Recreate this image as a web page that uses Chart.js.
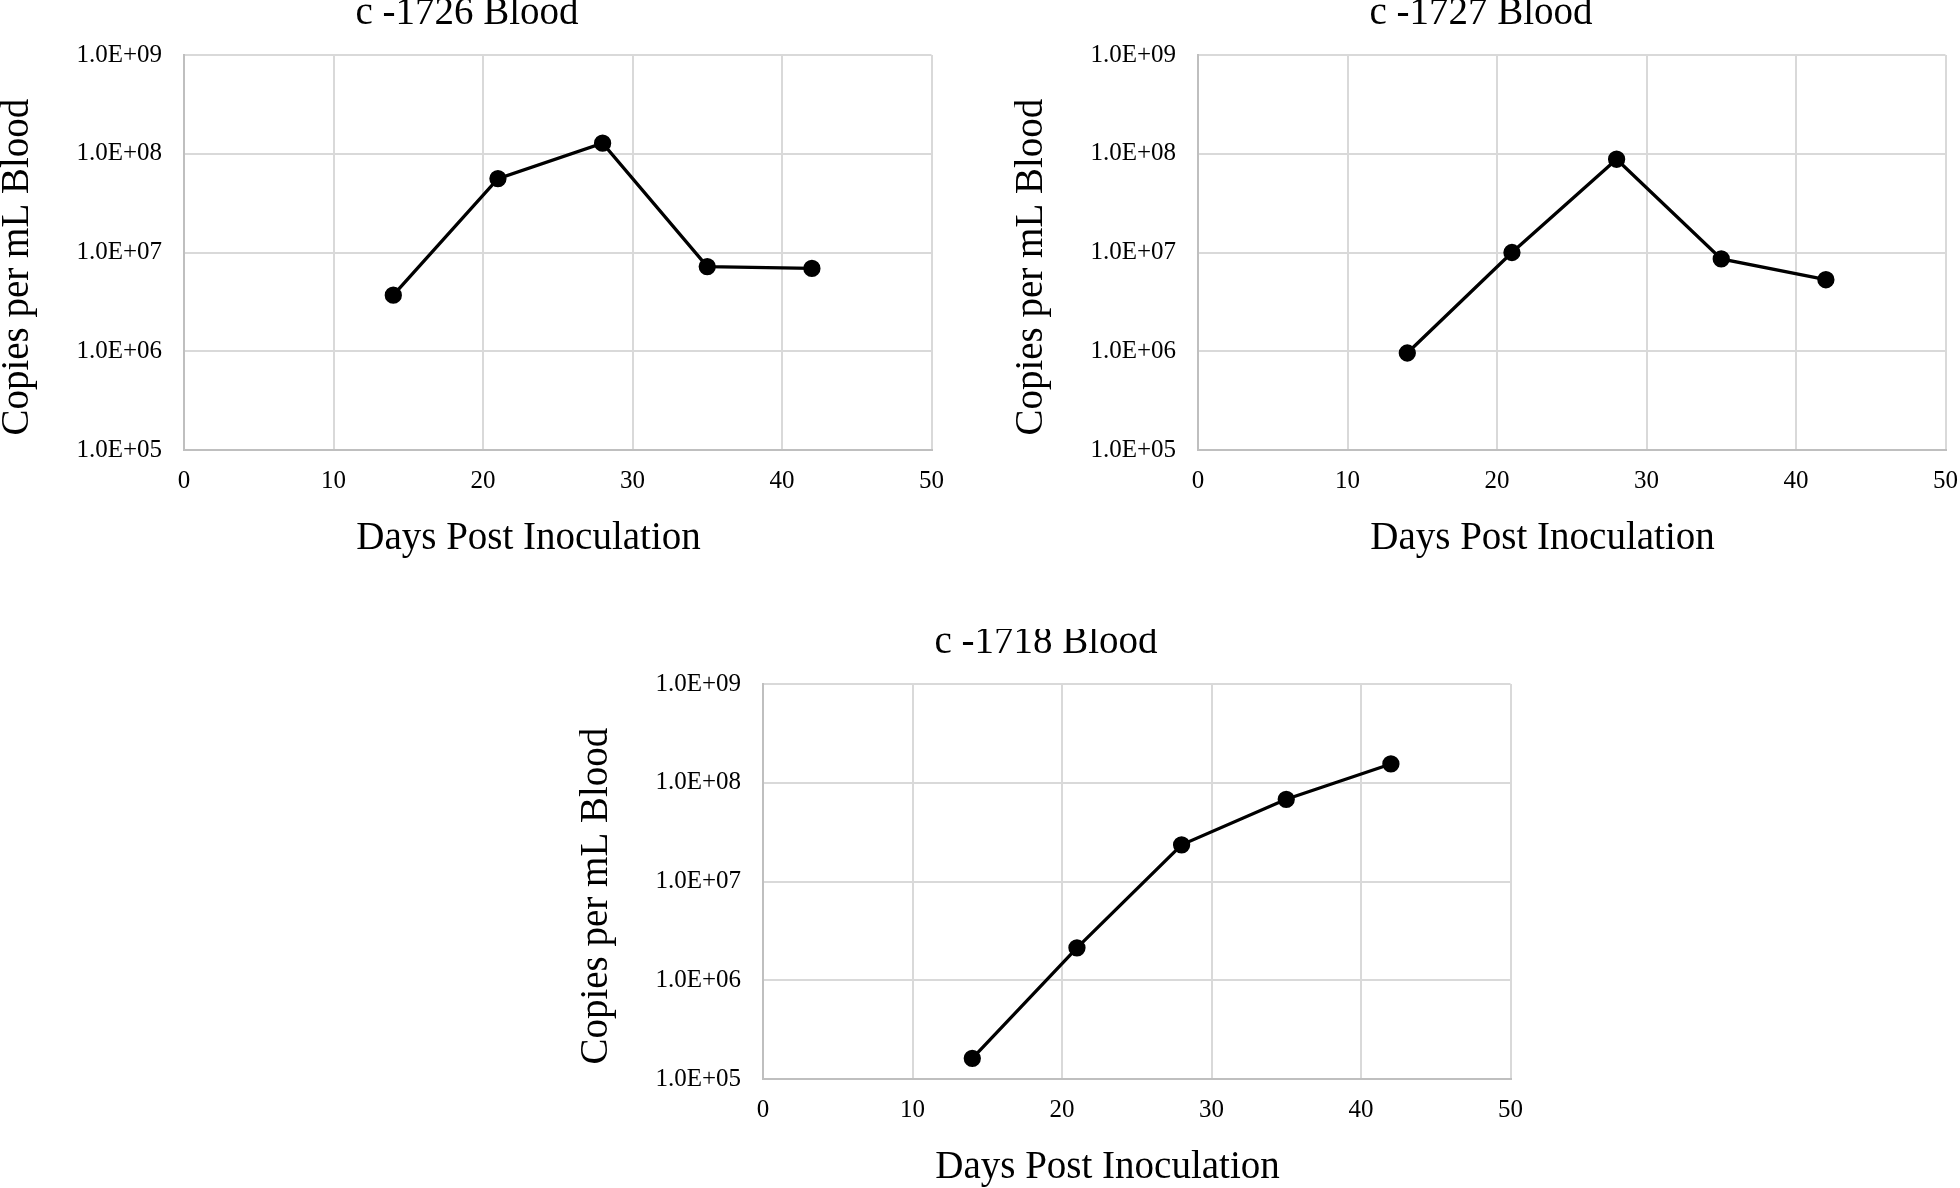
<!DOCTYPE html>
<html>
<head>
<meta charset="utf-8">
<title>Copies per mL Blood</title>
<script src="https://cdn.jsdelivr.net/npm/chart.js@4.4.0/dist/chart.umd.min.js"></script>
<style>
  body { margin: 0; background: #fff; width: 1960px; height: 1188px; overflow: hidden; position: relative; }
  canvas { position: absolute; }
  #chart1726 { left: 0; top: 0; }
  #chart1727 { left: 1014px; top: 0; }
  #chart1718 { left: 579px; top: 629px; }
</style>
</head>
<body>
<canvas id="chart1726" width="960" height="570"></canvas>
<canvas id="chart1727" width="960" height="570"></canvas>
<canvas id="chart1718" width="960" height="570"></canvas>
<script>
'use strict';

// days post inoculation
let days = [14, 21, 28, 35, 42];

// copies per mL blood
let c1726 = [3.7e6, 5.6e7, 1.28e8, 7.2e6, 6.9e6];
let c1727 = [9.6e5, 1.0e7, 8.8e7, 8.6e6, 5.3e6];
let c1718 = [1.62e5, 2.13e6, 2.35e7, 6.8e7, 1.55e8];

let yTicks = [1e5, 1e6, 1e7, 1e8, 1e9];
let xMin = 0;
let xMax = 50;
let xStep = 10;

let serif = "'Liberation Serif', 'Times New Roman', serif";
Chart.defaults.font.family = serif;
Chart.defaults.color = '#000';

function sciLabel(value) {
    let exp = Math.round(Math.log10(value));
    return '1.0E+' + String(exp).padStart(2, '0');
}

function makeChart(id, title, values) {
    let ctx = document.getElementById(id).getContext('2d');
    let points = [];
    for (let i = 0; i < days.length; i++) {
        points.push({ x: days[i], y: values[i] });
    }

    return new Chart(ctx, {
        type: 'line',
        data: {
            datasets: [{
                data: points,
                borderColor: '#000',
                borderWidth: 3.3,
                backgroundColor: '#000',
                pointBackgroundColor: '#000',
                pointBorderColor: '#000',
                pointRadius: 7,
                tension: 0
            }]
        },
        options: {
            responsive: false,
            animation: false,
            devicePixelRatio: 1,
            layout: { padding: { left: 0, right: 26, top: 0, bottom: 0 } },
            plugins: {
                legend: { display: false },
                tooltip: { enabled: false },
                title: {
                    display: true,
                    text: title,
                    color: '#000',
                    font: { family: serif, size: 39, weight: 'normal', lineHeight: 0.7 },
                    padding: { top: 0, bottom: 27.7 }
                }
            },
            scales: {
                x: {
                    type: 'linear',
                    min: xMin,
                    max: xMax,
                    ticks: {
                        stepSize: xStep,
                        padding: 16,
                        color: '#000',
                        font: { family: serif, size: 25 }
                    },
                    grid: { color: '#d9d9d9', lineWidth: 2, drawTicks: false },
                    border: { color: '#bfbfbf', width: 2 },
                    title: {
                        display: true,
                        // trailing spaces push the centred text a bit left, as in the original
                        text: 'Days Post Inoculation      ',
                        color: '#000',
                        font: { family: serif, size: 39, lineHeight: 1.2 },
                        padding: { top: 0, bottom: 8 }
                    },
                    afterFit: function (scale) { scale.height = 120; }
                },
                y: {
                    type: 'logarithmic',
                    min: yTicks[0],
                    max: yTicks[yTicks.length - 1],
                    afterBuildTicks: function (scale) {
                        scale.ticks = yTicks.map(function (v) { return { value: v }; });
                    },
                    ticks: {
                        padding: 22,
                        color: '#000',
                        font: { family: serif, size: 25 },
                        callback: sciLabel
                    },
                    grid: { color: '#d9d9d9', lineWidth: 2, drawTicks: false },
                    border: { color: '#bfbfbf', width: 2 },
                    title: {
                        display: true,
                        // same trick: trailing spaces move the rotated text down a little
                        text: 'Copies per mL Blood   ',
                        color: '#000',
                        font: { family: serif, size: 39, weight: 'normal', lineHeight: 0.92 },
                        padding: { top: 0, bottom: 0 }
                    },
                    afterFit: function (scale) { scale.width = 184; }
                }
            }
        }
    });
}

makeChart('chart1726', 'c -1726 Blood', c1726);
makeChart('chart1727', 'c -1727 Blood', c1727);
makeChart('chart1718', 'c -1718 Blood', c1718);
</script>
</body>
</html>
